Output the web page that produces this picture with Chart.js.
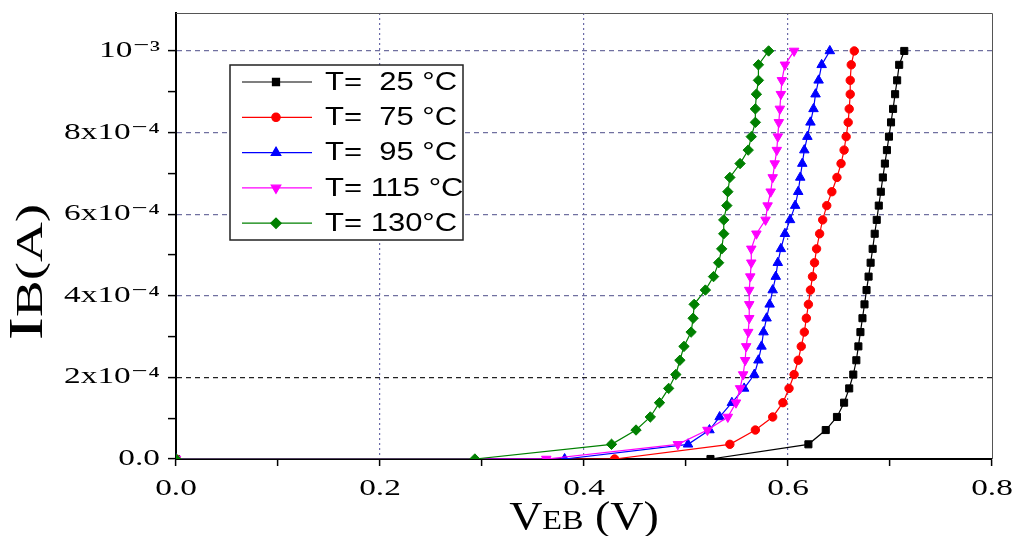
<!DOCTYPE html>
<html>
<head>
<meta charset="utf-8">
<script src="https://cdn.jsdelivr.net/npm/chart.js@4.4.0/dist/chart.umd.min.js"></script>
<style>
  html, body { margin: 0; padding: 0; background: #fff; }
  #wrap { width: 1013px; height: 536px; position: relative; }
</style>
</head>
<body>
<div id="wrap"><canvas id="chartIV"></canvas></div>
<script>
// I-V curves of the EB junction at several temperatures

const seriesLabels = ["T=  25 °C", "T=  75 °C", "T=  95 °C", "T= 115 °C", "T= 130°C"];
const seriesColors = ["#000000", "#ff0000", "#0000ff", "#ff00ff", "#008000"];
const seriesMarkers = ["rect", "circle", "triangle", "triangle", "rectRot"];
const markerRotation = [0, 0, 0, 180, 0];
const markerRadius = [5, 4.2, 5.5, 5.5, 5.2];

// base current sweep (A), same steps for every curve
const ibSweep = [0, 0, 3.6e-5, 7.1e-5, 1.03e-4, 1.38e-4, 1.73e-4, 2.07e-4, 2.42e-4, 2.76e-4,
  3.11e-4, 3.45e-4, 3.79e-4, 4.14e-4, 4.47e-4, 4.81e-4, 5.15e-4, 5.52e-4, 5.86e-4, 6.21e-4,
  6.55e-4, 6.9e-4, 7.24e-4, 7.57e-4, 7.9e-4, 8.25e-4, 8.58e-4, 8.94e-4, 9.28e-4, 9.66e-4, 1.0e-3];

// V_EB (V) for each temperature
const vebT25 = [0, 0.524, 0.620, 0.637, 0.648, 0.655, 0.660, 0.664, 0.667, 0.669, 0.671, 0.673,
  0.675, 0.677, 0.679, 0.681, 0.683, 0.685, 0.687, 0.689, 0.691, 0.693, 0.695, 0.697, 0.699,
  0.701, 0.703, 0.705, 0.707, 0.709, 0.714];
const vebT75 = [0, 0.430, 0.543, 0.568, 0.585, 0.595, 0.601, 0.606, 0.610, 0.613, 0.616, 0.618,
  0.620, 0.622, 0.624, 0.626, 0.628, 0.631, 0.634, 0.638, 0.643, 0.648, 0.652, 0.655, 0.657,
  0.659, 0.660, 0.661, 0.661, 0.662, 0.665];
const vebT95 = [0, 0.381, 0.502, 0.523, 0.533, 0.545, 0.557, 0.567, 0.571, 0.574, 0.576, 0.579,
  0.582, 0.585, 0.588, 0.590, 0.593, 0.597, 0.602, 0.607, 0.610, 0.612, 0.614, 0.616, 0.619,
  0.622, 0.625, 0.627, 0.630, 0.633, 0.641];
const vebT115 = [0, 0.363, 0.492, 0.521, 0.541, 0.549, 0.553, 0.556, 0.558, 0.559, 0.561, 0.562,
  0.562, 0.562, 0.563, 0.564, 0.564, 0.569, 0.578, 0.580, 0.583, 0.585, 0.587, 0.589, 0.590,
  0.591, 0.592, 0.593, 0.594, 0.597, 0.606];
const vebT130 = [0, 0.293, 0.427, 0.451, 0.465, 0.474, 0.483, 0.490, 0.494, 0.498, 0.505, 0.507,
  0.508, 0.519, 0.527, 0.532, 0.535, 0.537, 0.537, 0.540, 0.541, 0.543, 0.553, 0.561, 0.564,
  0.568, 0.568, 0.569, 0.571, 0.571, 0.581];

const xTickValues = [0, 0.1, 0.2, 0.3, 0.4, 0.5, 0.6, 0.7, 0.8];
const xTickLabels = ["0.0", "", "0.2", "", "0.4", "", "0.6", "", "0.8"];
const yTickValues = [0, 0.0001, 0.0002, 0.0003, 0.0004, 0.0005, 0.0006, 0.0007, 0.0008, 0.0009, 0.001];
const yTickLabels = ["0.0", "", "2x10⁻⁴", "", "4x10⁻⁴", "", "6x10⁻⁴", "", "8x10⁻⁴", "", "10⁻³"];

const xTitleParts = ["V", "EB", " (V)"];
const yTitleParts = ["I", "B(A)"];

const SERIF = "'Liberation Serif', 'Times New Roman', 'DejaVu Serif', serif";
const SANS = "'Liberation Sans', Arial, sans-serif";
const TICK_STRETCH = 1.45;

function $(id){ return document.getElementById(id); }

const vebSeries = [vebT25, vebT75, vebT95, vebT115, vebT130];

// text in the source is drawn wide, so stretch it along the baseline
const baseFillText = CanvasRenderingContext2D.prototype.fillText;
function wideText(ctx, text, x, y, sx){
  ctx.save();
  ctx.translate(x, y);
  ctx.scale(sx, 1);
  baseFillText.call(ctx, text, 0, 0);
  ctx.restore();
}

const wideTicks = {
  id: "wideTicks",
  beforeDraw(chart){
    chart.ctx.fillText = function(text, x, y){ wideText(this, text, x, y, TICK_STRETCH); };
  },
  beforeDatasetsDraw(chart){
    delete chart.ctx.fillText;
  }
};

function drawParts(ctx, parts, sizes, x, y, sx){
  let cx = x;
  parts.forEach((p, i) => {
    ctx.font = sizes[i] + "px " + SERIF;
    wideText(ctx, p, cx, y, sx);
    cx += ctx.measureText(p).width * sx;
  });
}
function partsWidth(ctx, parts, sizes, sx){
  let w = 0;
  parts.forEach((p, i) => {
    ctx.font = sizes[i] + "px " + SERIF;
    w += ctx.measureText(p).width * sx;
  });
  return w;
}

const frameLegendTitles = {
  id: "frameLegendTitles",
  afterDatasetsDraw(chart){
    const { ctx, chartArea: a } = chart;
    ctx.save();

    // top and right frame
    ctx.strokeStyle = "#555";
    ctx.lineWidth = 1;
    ctx.beginPath();
    ctx.moveTo(a.left, a.top + 0.5);
    ctx.lineTo(a.right + 0.5, a.top + 0.5);
    ctx.lineTo(a.right + 0.5, a.bottom);
    ctx.stroke();

    // legend box
    ctx.fillStyle = "#fff";
    ctx.fillRect(230, 65, 233, 175);
    ctx.strokeStyle = "#222";
    ctx.lineWidth = 1.5;
    ctx.strokeRect(230, 65, 233, 175);

    chart.data.datasets.forEach((ds, i) => {
      const y = 82 + i * 35.3;
      ctx.strokeStyle = ds.borderColor;
      ctx.fillStyle = ds.backgroundColor;
      ctx.lineWidth = 1.2;
      ctx.beginPath();
      ctx.moveTo(242, y);
      ctx.lineTo(312, y);
      ctx.stroke();
      Chart.helpers.drawPoint(ctx, {
        pointStyle: ds.pointStyle, rotation: ds.pointRotation,
        radius: ds.pointRadius, borderWidth: 1
      }, 276, y);
      ctx.fillStyle = "#000";
      ctx.font = "25px " + SANS;
      ctx.textAlign = "left";
      ctx.textBaseline = "middle";
      wideText(ctx, ds.label, 325, y + 1, 1.24);
    });

    // axis titles
    ctx.fillStyle = "#000";
    ctx.textAlign = "left";
    ctx.textBaseline = "alphabetic";
    const xSizes = [40, 28, 40];
    const xw = partsWidth(ctx, xTitleParts, xSizes, 1.15);
    drawParts(ctx, xTitleParts, xSizes, (a.left + a.right) / 2 - xw / 2, 529, 1.15);

    const ySizes = [48, 38];
    const yw = partsWidth(ctx, yTitleParts, ySizes, 1.45);
    ctx.translate(42, 272 + yw / 2);
    ctx.rotate(-Math.PI / 2);
    drawParts(ctx, yTitleParts, ySizes, 0, 0, 1.45);

    ctx.restore();
  }
};

const chartIV = new Chart($("chartIV"), {
  type: "line",
  data: {
    datasets: vebSeries.map((veb, i) => ({
      label: seriesLabels[i],
      data: veb.map((v, j) => ({ x: v, y: ibSweep[j] })),
      borderColor: seriesColors[i],
      backgroundColor: seriesColors[i],
      borderWidth: 1.2,
      pointStyle: seriesMarkers[i],
      pointRotation: markerRotation[i],
      pointRadius: markerRadius[i],
      pointBorderWidth: 1,
      tension: 0,
      order: 5 - i
    }))
  },
  options: {
    responsive: true,
    maintainAspectRatio: false,
    animation: false,
    layout: { padding: { left: 0, right: 21, top: 13, bottom: 0 } },
    plugins: {
      legend: { display: false },
      tooltip: { enabled: false }
    },
    scales: {
      x: {
        type: "linear",
        min: 0, max: 0.8,
        afterBuildTicks: s => { s.ticks = xTickValues.map(v => ({ value: v })); },
        afterFit: s => { s.height = 77; s.paddingLeft = 0; s.paddingRight = 0; },
        ticks: {
          autoSkip: false, maxRotation: 0, padding: 9,
          color: "#000",
          font: { family: SERIF, size: 23 },
          callback: (v, i) => xTickLabels[i]
        },
        grid: {
          color: c => (c.index > 0 && c.index < 8 && c.index % 2 === 0) ? "#6b6ba8" : "transparent",
          lineWidth: 1.2,
          tickColor: "#000",
          tickWidth: 1.5,
          tickLength: 7,
          tickBorderDash: []
        },
        border: { color: "#000", width: 2, dash: [2, 3] }
      },
      y: {
        type: "linear",
        min: 0, max: 0.001093,
        afterBuildTicks: s => { s.ticks = yTickValues.map(v => ({ value: v })); },
        afterFit: s => { s.width = 176; s.paddingTop = 0; s.paddingBottom = 0; },
        ticks: {
          autoSkip: false, padding: 8,
          color: "#000",
          font: { family: SERIF, size: 23 },
          callback: (v, i) => yTickLabels[i]
        },
        grid: {
          color: c => (c.index > 0 && c.index % 2 === 0) ? (c.index === 2 ? "#222" : "#7070a0") : "transparent",
          lineWidth: 1.2,
          tickColor: "#000",
          tickWidth: 1.5,
          tickLength: 8,
          tickBorderDash: []
        },
        border: { color: "#000", width: 2, dash: [5, 4] }
      }
    }
  },
  plugins: [wideTicks, frameLegendTitles]
});
</script>
</body>
</html>
